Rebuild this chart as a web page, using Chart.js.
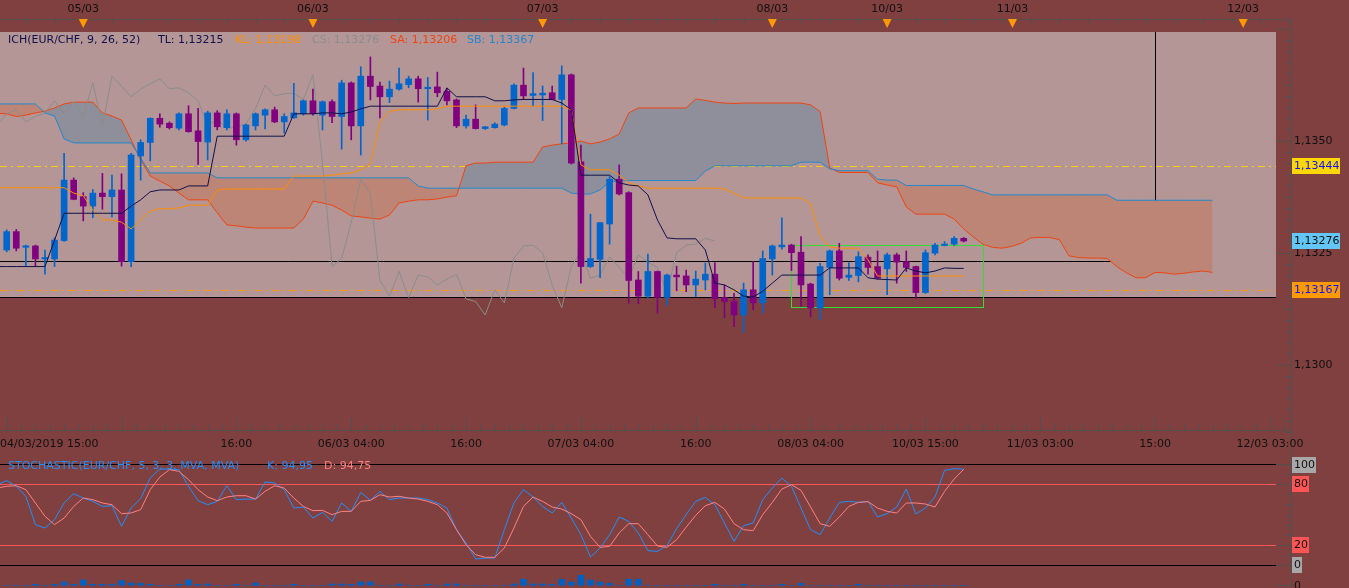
<!DOCTYPE html>
<html><head><meta charset="utf-8">
<script src="https://cdn.jsdelivr.net/npm/chart.js@4.4.1/dist/chart.umd.min.js"></script>
<style>
html,body{margin:0;padding:0;background:#804040;overflow:hidden;}
#wrap{position:relative;width:1349px;height:588px;}
canvas{position:absolute;left:0;}
#main{top:0;} #stoch{top:455px;}
</style></head><body>
<div id="wrap"><canvas id="main" width="1349" height="455"></canvas><canvas id="stoch" width="1349" height="133"></canvas></div>
<script>
// ---------- DATA ----------
// candles: index 0..100
const opens = [1.13256,1.13297,1.13262,1.13265,1.13236,1.13236,1.13277,1.13412,1.13375,1.13354,
1.13383,1.13375,1.1339,1.1323,1.13466,1.13496,1.1355,1.13539,1.13528,1.1356,
1.13522,1.13497,1.13562,1.13529,1.1356,1.13502,1.13533,1.13557,1.13569,1.13542,
1.13551,1.1356,1.13589,1.13557,1.13587,1.13554,1.13629,1.13533,1.13644,1.13622,
1.13598,1.13615,1.13625,1.13638,1.13616,1.1362,1.1361,1.13591,1.13533,1.13548,
1.13527,1.13529,1.13535,1.13572,1.13624,1.13601,1.13602,1.13607,1.13592,1.13647,
1.13453,1.13219,1.13235,1.13314,1.13414,1.13384,1.13189,1.13153,1.13208,1.1315,
1.132,1.13198,1.13178,1.13189,1.13202,1.1315,1.13142,1.13111,1.13167,1.13138,
1.13236,1.13263,1.13267,1.13251,1.1318,1.13127,1.13217,1.13254,1.13195,1.13199,
1.1324,1.13219,1.13214,1.13245,1.1323,1.13219,1.13161,1.13249,1.13266,1.13269,
1.13282];
const highs = [1.13301,1.13302,1.13267,1.13267,1.13256,1.13283,1.13472,1.13417,1.13384,1.13391,
1.13427,1.13423,1.13426,1.13472,1.13502,1.13551,1.1356,1.13542,1.13562,1.13578,
1.13572,1.13566,1.13567,1.13569,1.13562,1.13537,1.13562,1.13571,1.13575,1.1356,
1.13628,1.13591,1.13615,1.13589,1.13591,1.13635,1.13631,1.13665,1.13687,1.13631,
1.13633,1.13662,1.13644,1.13644,1.13641,1.13653,1.13617,1.13593,1.13557,1.1358,
1.13532,1.1354,1.13575,1.13627,1.13662,1.13652,1.13622,1.13622,1.13667,1.13649,
1.1349,1.13336,1.13318,1.1342,1.13446,1.13386,1.13208,1.13247,1.13209,1.13202,
1.1322,1.13211,1.13209,1.13227,1.13228,1.13178,1.13159,1.13182,1.1323,1.13254,
1.13267,1.13328,1.13269,1.13286,1.13182,1.13226,1.13256,1.13271,1.13228,1.13252,
1.13245,1.13254,1.13249,1.13249,1.13254,1.1322,1.13256,1.13271,1.13275,1.13286,
1.13284];
const lows = [1.13252,1.13254,1.13219,1.13219,1.13202,1.13219,1.13275,1.13368,1.13321,1.13328,
1.13347,1.1333,1.1322,1.13219,1.13412,1.13455,1.1353,1.13526,1.13524,1.13519,
1.13447,1.13457,1.13524,1.13524,1.1349,1.13499,1.13524,1.13526,1.1354,1.13517,
1.1355,1.13557,1.13557,1.13524,1.1354,1.13481,1.13502,1.13468,1.13591,1.13551,
1.13585,1.13613,1.13618,1.13586,1.13546,1.13598,1.1358,1.13529,1.13528,1.13526,
1.13525,1.13528,1.13533,1.13571,1.13592,1.13577,1.13545,1.13591,1.13493,1.13448,
1.13182,1.13217,1.13194,1.13269,1.13379,1.13137,1.13136,1.13148,1.13115,1.13133,
1.13165,1.13163,1.13152,1.13167,1.13127,1.13105,1.13085,1.13072,1.13122,1.13115,
1.132,1.13258,1.1321,1.1313,1.13107,1.13101,1.13156,1.13189,1.13188,1.13185,
1.13202,1.13191,1.13156,1.13182,1.13208,1.13148,1.13159,1.13245,1.13265,1.13266,
1.13274];
const closes = [1.13297,1.1326,1.13264,1.13236,1.13238,1.13278,1.13412,1.13369,1.13354,1.13383,
1.13375,1.1339,1.1323,1.13468,1.13496,1.1355,1.13537,1.13529,1.1356,1.1352,
1.13498,1.13562,1.13531,1.1356,1.13502,1.13535,1.1356,1.13569,1.13542,1.13554,
1.13562,1.13589,1.1356,1.13587,1.13554,1.13629,1.13533,1.13644,1.13621,1.13598,
1.13615,1.13627,1.13638,1.13616,1.13618,1.13607,1.13589,1.13533,1.13548,1.13527,
1.13531,1.13537,1.13572,1.13624,1.136,1.13605,1.13606,1.13592,1.13647,1.1345,
1.13219,1.13237,1.13317,1.13414,1.13381,1.13188,1.13153,1.13208,1.1315,1.132,
1.13196,1.13178,1.13191,1.13202,1.13147,1.13141,1.13111,1.13167,1.13138,1.13237,
1.13265,1.13267,1.1325,1.13178,1.13127,1.13219,1.13254,1.13193,1.132,1.13241,
1.13217,1.13193,1.13245,1.13229,1.13217,1.13161,1.1325,1.13267,1.13269,1.13282,
1.13276];
// indicator lines: first value sits at index -1 (left edge of the plot)
const LINE_START = -1;
const tenkan = [1.13219,1.13219,1.13219,1.13219,1.13219,1.13219,1.13278,1.13338,1.13338,1.13338,1.13338,
1.13338,1.13338,1.13338,1.13354,1.13368,1.13386,1.1339,1.1339,1.1339,1.13399,
1.13399,1.13399,1.1351,1.1351,1.1351,1.1351,1.1351,1.1351,1.1351,1.1351,
1.1356,1.1356,1.1356,1.13562,1.13562,1.1356,1.13564,1.13571,1.13577,1.13577,
1.13577,1.13577,1.13577,1.13577,1.13577,1.13577,1.13618,1.13598,1.13598,1.13598,
1.13598,1.13589,1.13589,1.13591,1.13592,1.13592,1.13592,1.13592,1.13584,1.13569,
1.13423,1.13423,1.13423,1.13423,1.13406,1.13401,1.13399,1.13379,1.13323,1.13283,
1.13281,1.13281,1.13281,1.13256,1.13182,1.13178,1.13167,1.13153,1.13151,1.13164,
1.13182,1.132,1.132,1.132,1.132,1.132,1.13216,1.13216,1.13216,1.13216,
1.13194,1.13191,1.1319,1.13189,1.13216,1.13209,1.13205,1.13209,1.13216,1.13215,
1.13215];
const kijun = [1.13395,1.13395,1.13395,1.13395,1.13395,1.13395,1.13395,1.13395,1.13383,1.13377,1.13345,
1.13323,1.13323,1.13318,1.13303,1.13323,1.13343,1.13348,1.13348,1.1335,1.13356,
1.13356,1.13356,1.1339,1.13392,1.13392,1.13392,1.13392,1.13392,1.13392,1.13392,
1.13421,1.13421,1.13421,1.13421,1.13423,1.13426,1.13428,1.13435,1.13448,1.13542,
1.13566,1.13569,1.13569,1.13569,1.13569,1.13571,1.13577,1.13577,1.13577,1.13577,
1.13577,1.13577,1.13577,1.13577,1.13577,1.13577,1.13577,1.13577,1.13577,1.13569,
1.13446,1.13435,1.13435,1.13435,1.13423,1.13406,1.13399,1.13394,1.13394,1.13394,
1.13394,1.13394,1.13394,1.13394,1.13394,1.13392,1.13383,1.13372,1.13372,1.13372,
1.13372,1.13372,1.13372,1.13372,1.13359,1.13287,1.13263,1.1326,1.1326,1.1326,
1.13234,1.13198,1.13198,1.13198,1.13198,1.13198,1.13198,1.13198,1.13198,1.13198,
1.13198];
const chikou = [1.13535,1.1356,1.13569,1.13542,1.13554,1.13562,1.13589,1.1356,1.13587,1.13554,1.13629,
1.13533,1.13644,1.13621,1.13598,1.13615,1.13627,1.13638,1.13616,1.13618,1.13607,
1.13589,1.13533,1.13548,1.13527,1.13531,1.13537,1.13572,1.13624,1.136,1.13605,
1.13606,1.13592,1.13647,1.1345,1.13219,1.13237,1.13317,1.13414,1.13381,1.13188,
1.13153,1.13208,1.1315,1.132,1.13196,1.13178,1.13191,1.13202,1.13147,1.13141,
1.13111,1.13167,1.13138,1.13237,1.13265,1.13267,1.1325,1.13178,1.13127,1.13219,
1.13254,1.13193,1.132,1.13241,1.13217,1.13193,1.13245,1.13229,1.13217,1.13161,
1.1325,1.13267,1.13269,1.13282,1.13276];
const senkouA = [1.13561,1.1356,1.13554,1.13557,1.13562,1.13566,1.13573,1.13582,1.13586,1.13586,1.13586,
1.13562,1.13555,1.13546,1.13502,1.13457,1.13421,1.1341,1.13399,1.13383,1.13368,
1.13368,1.13368,1.13339,1.13312,1.1331,1.13307,1.13305,1.13305,1.13305,1.13305,
1.13305,1.13325,1.13365,1.13361,1.13356,1.13345,1.13332,1.1333,1.13327,1.13325,
1.13334,1.13361,1.13365,1.13368,1.13368,1.1337,1.13374,1.13377,1.13444,1.1345,
1.1345,1.13452,1.13452,1.13452,1.13452,1.13452,1.13486,1.1349,1.13493,1.13495,
1.13499,1.13493,1.13497,1.13504,1.13515,1.13562,1.13573,1.13573,1.13573,1.13573,
1.13573,1.13573,1.13593,1.1359,1.13586,1.13584,1.13583,1.13584,1.13584,1.13584,
1.13584,1.13584,1.13584,1.13584,1.1358,1.13565,1.13439,1.13429,1.13429,1.13429,
1.13429,1.13406,1.13401,1.13397,1.13352,1.13336,1.13336,1.13336,1.13336,1.13325,
1.13303,1.13285,1.13269,1.13262,1.1326,1.13264,1.13271,1.13283,1.13284,1.13284,
1.13279,1.13243,1.13239,1.13238,1.13238,1.13237,1.13219,1.13205,1.13194,1.13194,
1.13206,1.13205,1.13202,1.13204,1.13207,1.13209,1.13206];
const senkouB = [1.13582,1.13582,1.13582,1.13582,1.13582,1.13562,1.13555,1.13504,1.13495,1.13495,1.13495,
1.13495,1.13495,1.13495,1.13495,1.13461,1.13428,1.13428,1.13428,1.13428,1.13428,
1.13428,1.13428,1.13417,1.13417,1.13417,1.13417,1.13417,1.13417,1.13417,1.13417,
1.13417,1.13417,1.13417,1.13417,1.13417,1.13417,1.13417,1.13417,1.13417,1.13417,
1.13417,1.13417,1.13417,1.13399,1.13394,1.13394,1.13394,1.13394,1.13394,1.13394,
1.13394,1.13394,1.13394,1.13394,1.13394,1.13394,1.13394,1.13394,1.13394,1.13383,
1.13381,1.13381,1.1339,1.13408,1.1341,1.13411,1.13411,1.13411,1.13411,1.13411,
1.13411,1.13411,1.13411,1.13432,1.13444,1.13444,1.13444,1.13444,1.13444,1.13444,
1.13444,1.13444,1.13444,1.13452,1.13452,1.13452,1.13437,1.13433,1.13433,1.13433,
1.13433,1.13414,1.13412,1.13412,1.134,1.134,1.134,1.134,1.134,1.134,
1.134,1.13392,1.13386,1.13379,1.13379,1.13379,1.13379,1.13379,1.13379,1.13379,
1.13379,1.13379,1.13379,1.13379,1.13379,1.13379,1.13367,1.13367,1.13367,1.13367,
1.13367,1.13367,1.13367,1.13367,1.13367,1.13367,1.13367];
const stochK = [79.2,83.5,77.9,68,40,36.6,44.9,61.4,70.6,66.3,63,
58,58.7,38.3,56.4,65.7,86.1,95,95,94.4,77.9,
63.7,59.7,63,78.5,64.7,65.3,65.3,82.2,81.2,74.6,
56.4,57.4,46.5,52.1,43.2,61.4,53.1,71.9,64,72.9,
64.7,66.3,66.3,66.3,64.7,61.4,56.4,35,21.8,5.9,
6.9,6.9,35,61.4,74.6,67.3,58,51.5,62,46.5,
30,7.9,16.8,30,47.5,43.2,31.7,14.2,13.5,19.3,
36,50,63,67,59.7,41.6,23.4,39,41.6,64.7,
76.2,86.1,77.9,56.4,35,30,46.5,62,63,62,
63,47.5,50.8,57.4,75.2,50.5,56.4,67.3,93.7,95.4,
94.95];
const stochD = [76.2,77.9,78.5,74.6,61.4,48.2,40,46.5,58,66.3,64.7,
61.4,59.7,50.8,51.5,54.8,74.6,87.1,94.4,92.7,84.5,
74.6,67.3,63.7,67.3,68.6,68.6,65.3,72.9,78.5,76.2,
66.3,58,53.8,54.1,49.8,53.1,53.1,63,64,69.6,
67.3,68,66.3,65.3,63,59.7,51.5,35,20.1,10.2,
7.6,7.6,16.8,36.6,58,67.3,63,57.4,55.4,50.8,
44.9,28.4,17.5,18.5,31.7,40.9,40.9,30,18.8,17.5,
25.1,37.5,49.2,58.7,62,55.4,40.9,35,34,49.8,
62,75.2,79.5,73.9,57.4,40.9,38.3,47.5,58,62,
62.7,56.4,53.1,51.5,61.4,61.4,60.4,57.4,72.9,85.1,
94.75];
const volumes = [0,0,0,10,0,10,33,10,53,10,
10,10,47,23,20,10,0,0,10,53,
10,13,0,0,10,0,23,0,0,0,
10,0,0,0,13,13,10,33,33,0,
0,13,0,0,10,0,13,13,0,0,
0,0,0,13,60,13,13,10,60,33,
100,53,33,20,0,60,60,0,0,0,
0,0,0,0,10,0,0,10,0,0,
0,10,0,20,0,0,0,0,0,10,
0,0,0,0,0,0,0,0,0,0,
0];
const topLabelIdx = [8,32,56,80,92,105.1,129.2];
const topLabels = ['05/03','06/03','07/03','08/03','10/03','11/03','12/03'];
const bottomLabelIdx = [0,24,36,48,60,72,84,96,108,120,132];
const bottomLabels = ['04/03/2019 15:00','16:00','06/03 04:00','16:00','07/03 04:00','16:00','08/03 04:00','10/03 15:00','11/03 03:00','15:00','12/03 03:00'];
const priceLabels = [1.1300,1.1325,1.1350];
const markerPrices = [1.13444,1.13276,1.13167];
const stochLevels = [100,80,20,0];

// ---------- LAYOUT / STYLE ----------
const X_MIN=-0.70, X_MAX=134.2, Y_MIN=1.128542, Y_MAX=1.137716;
const S_MIN=-22.77, S_MAX=100, V_MIN=-27, V_MAX=1213;
const PANEL_END=132.6, PANEL_TOP=1.13743, PANEL_BOTTOM=1.13151;
const SEL_END=120, SEL_PRICE=1.13231;
const BOX_X0=82, BOX_X1=102, BOX_P0=1.13128, BOX_P1=1.13267;
const BG='#804040', PANEL='#b49696', AXIS='#505050', TXT='#101010';
const BLUE='#0066cc', PURPLE='#800080';
const C_TL='#10104a', C_KL='#ff8c00', C_CS='#8c8c8c', C_SA='#ee4411', C_SB='#2288cc';
const CLOUD_UP='#8f8f9b', CLOUD_DN='#bd8575';
const FONT='11px "DejaVu Sans", sans-serif';
const fmt=(v,d)=>v.toFixed(d).replace('.',',');
const pts=(a,off)=>a.map((v,i)=>({x:i+(off||0),y:v}));
const candleCols=closes.map((c,i)=>c>=opens[i]?BLUE:PURPLE);
const line=(label,data,color,order,extra)=>Object.assign({type:'line',label,data:pts(data,LINE_START),borderColor:color,borderWidth:1,pointRadius:0,tension:0,fill:false,order},extra||{});

function tag(ctx,x,y,text,bg,fg,w){
  ctx.font=FONT; const tw=w||ctx.measureText(text).width+3;
  ctx.fillStyle=bg; ctx.fillRect(x,Math.round(y)-8,tw,16);
  ctx.fillStyle=fg; ctx.textAlign='left'; ctx.textBaseline='middle'; ctx.fillText(text,x+2,Math.round(y)+0.5);
}

const mainDeco={
  id:'mainDeco',
  beforeDraw(chart){const c=chart.ctx;c.save();c.fillStyle=BG;c.fillRect(0,0,chart.width,chart.height);c.restore();},
  beforeDatasetsDraw(chart){
    const {ctx,scales:{x,y},chartArea:a}=chart;
    const L=a.left, R=Math.round(x.getPixelForValue(PANEL_END));
    const T=Math.round(y.getPixelForValue(PANEL_TOP)), B=Math.round(y.getPixelForValue(PANEL_BOTTOM));
    ctx.save();
    ctx.fillStyle=PANEL; ctx.fillRect(L,T,R-L,B-T);
    ctx.lineWidth=1;
    const hl=(p,x1,x2,col,dash)=>{const yy=Math.round(y.getPixelForValue(p))+0.5;ctx.strokeStyle=col;ctx.setLineDash(dash||[]);ctx.beginPath();ctx.moveTo(x1,yy);ctx.lineTo(x2,yy);ctx.stroke();};
    hl(markerPrices[0],L,R,'#ffcc00',[7,4,2,4]);
    hl(markerPrices[2],L,R,'#ff9900',[7,4,2,4]);
    const sx=Math.round(x.getPixelForValue(SEL_END))+0.5;
    hl(SEL_PRICE,L,sx,'#000');
    ctx.setLineDash([]);ctx.strokeStyle='#000';ctx.beginPath();ctx.moveTo(sx,T);ctx.lineTo(sx,Math.round(y.getPixelForValue(SEL_PRICE))+0.5);ctx.stroke();
    hl(PANEL_BOTTOM,L,R,'#000');
    const bx0=Math.round(x.getPixelForValue(BOX_X0))+0.5,bx1=Math.round(x.getPixelForValue(BOX_X1))+0.5;
    const by0=Math.round(y.getPixelForValue(BOX_P1))+0.5,by1=Math.round(y.getPixelForValue(BOX_P0))+0.5;
    ctx.strokeStyle='#33dd33';ctx.strokeRect(bx0,by0,bx1-bx0,by1-by0);
    ctx.restore();
  },
  afterDraw(chart){
    const {ctx,scales:{x,y},chartArea:a}=chart;
    ctx.save(); ctx.lineWidth=1; ctx.strokeStyle=AXIS; ctx.font=FONT;
    const top=a.top+0.5, bot=a.bottom+0.5, rx=a.right+0.5;
    ctx.beginPath();
    ctx.moveTo(0,top);ctx.lineTo(rx,top);
    ctx.moveTo(0,bot);ctx.lineTo(rx,bot);
    ctx.moveTo(rx,a.top);ctx.lineTo(rx,chart.height);
    for(let k=2;k<=X_MAX;k+=3){const px=Math.round(x.getPixelForValue(k))+0.5;ctx.moveTo(px,a.top);ctx.lineTo(px,a.top+5);}
    for(let k=0;k<=X_MAX;k+=1.5){const px=Math.round(x.getPixelForValue(k))+0.5;const len=(k%12===0)?13:6;ctx.moveTo(px,a.bottom);ctx.lineTo(px,a.bottom-len);}
    for(let m=112850;m<=113775;m+=25){const py=Math.round(y.getPixelForValue(m/1e5))+0.5;if(py<a.top)continue;const len=m%250===0?14:(m%125===0?8:5);ctx.moveTo(a.right,py);ctx.lineTo(a.right-len,py);}
    ctx.stroke();
    ctx.fillStyle='#ff9900';
    topLabelIdx.forEach(i=>{const px=x.getPixelForValue(i);ctx.beginPath();ctx.moveTo(px-4.5,a.top);ctx.lineTo(px+4.5,a.top);ctx.lineTo(px,a.top+9);ctx.closePath();ctx.fill();});
    ctx.fillStyle=TXT; ctx.textBaseline='middle'; ctx.textAlign='center';
    topLabels.forEach((t,j)=>ctx.fillText(t,x.getPixelForValue(topLabelIdx[j]),9.5));
    bottomLabels.forEach((t,j)=>{const px=x.getPixelForValue(bottomLabelIdx[j]);if(j===0){ctx.textAlign='left';ctx.fillText(t,0,444.5);ctx.textAlign='center';}else ctx.fillText(t,px,444.5);});
    ctx.textAlign='left';
    priceLabels.forEach(p=>ctx.fillText(fmt(p,4),a.right+3,Math.round(y.getPixelForValue(p))+0.5));
    tag(ctx,a.right+1,y.getPixelForValue(markerPrices[0]),fmt(markerPrices[0],5),'#ffd700','#1010ff',48);
    tag(ctx,a.right+1,y.getPixelForValue(markerPrices[1]),fmt(markerPrices[1],5),'#62c6f6','#101010',48);
    tag(ctx,a.right+1,y.getPixelForValue(markerPrices[2]),fmt(markerPrices[2],5),'#ff9900','#1010ff',48);
    const ly=40.5; ctx.textBaseline='middle';
    const last=a2=>a2[a2.length-1];
    const parts=[['ICH(EUR/CHF, 9, 26, 52)',8,C_TL],['TL: '+fmt(last(tenkan),5),158,C_TL],['KL: '+fmt(last(kijun),5),235,C_KL],['CS: '+fmt(last(chikou),5),312,C_CS],['SA: '+fmt(last(senkouA),5),390,C_SA],['SB: '+fmt(last(senkouB),5),467,C_SB]];
    parts.forEach(([t,px,c])=>{ctx.fillStyle=c;ctx.fillText(t,px,ly);});
    ctx.restore();
  }
};

new Chart(document.getElementById('main'),{
  type:'bar',
  data:{datasets:[
    line('SA',senkouA,C_SA,10,{fill:{target:1,above:CLOUD_UP,below:CLOUD_DN}}),
    line('SB',senkouB,C_SB,9),
    line('CS',chikou,C_CS,8),
    {type:'bar',label:'wick',data:highs.map((h,i)=>({x:i,y:[lows[i],h]})),backgroundColor:candleCols,barThickness:1,grouped:false,order:7},
    {type:'bar',label:'body',data:opens.map((o,i)=>({x:i,y:[o,closes[i]]})),backgroundColor:candleCols,barThickness:6,minBarLength:1.5,grouped:false,order:6},
    line('KL',kijun,C_KL,5),
    line('TL',tenkan,C_TL,4)
  ]},
  options:{responsive:false,animation:false,events:[],
    layout:{padding:{left:0,right:58,top:19,bottom:25}},
    plugins:{legend:{display:false},tooltip:{enabled:false}},
    scales:{x:{type:'linear',min:X_MIN,max:X_MAX,display:false,offset:false},
            y:{type:'linear',min:Y_MIN,max:Y_MAX,display:false}}},
  plugins:[mainDeco]
});

const stochDeco={
  id:'stochDeco',
  beforeDraw(chart){const c=chart.ctx;c.save();c.fillStyle=BG;c.fillRect(0,0,chart.width,chart.height);c.restore();},
  beforeDatasetsDraw(chart){
    const {ctx,scales:{x,y}}=chart; const R=Math.round(x.getPixelForValue(PANEL_END));
    ctx.save();ctx.lineWidth=1;
    stochLevels.forEach(v=>{const py=Math.round(y.getPixelForValue(v))+0.5;ctx.strokeStyle=(v===100||v===0)?'#000':'#ff5555';ctx.beginPath();ctx.moveTo(0,py);ctx.lineTo(R,py);ctx.stroke();});
    ctx.restore();
  },
  afterDraw(chart){
    const {ctx,scales:{x,y,yv},chartArea:a}=chart;
    ctx.save();ctx.lineWidth=1;ctx.strokeStyle=AXIS;ctx.font=FONT;
    const rx=a.right+0.5;
    ctx.beginPath();ctx.moveTo(rx,0);ctx.lineTo(rx,chart.height);
    for(let v=0;v<=100;v+=10){const py=Math.round(y.getPixelForValue(v))+0.5;const len=stochLevels.includes(v)?15:5;ctx.moveTo(a.right,py);ctx.lineTo(a.right-len,py);}
    const pv=Math.round(yv.getPixelForValue(0))+0.5;ctx.moveTo(a.right,pv);ctx.lineTo(a.right-15,pv);
    ctx.stroke();
    stochLevels.forEach(v=>{const gray=(v===100||v===0);tag(ctx,a.right+1,y.getPixelForValue(v)+(v===100?1:0),String(v),gray?'#a8a8a8':'#ff5555','#101010');});
    ctx.fillStyle=TXT;ctx.textAlign='left';ctx.textBaseline='middle';ctx.fillText('0',a.right+3,Math.round(yv.getPixelForValue(0))+1);
    ctx.fillStyle='#1e90ff';ctx.fillText('STOCHASTIC(EUR/CHF, 5, 3, 3, MVA, MVA)',8,11.5);
    ctx.fillText('K: '+fmt(stochK[stochK.length-1],2),267,11.5);
    ctx.fillStyle='#ff8080';ctx.fillText('D: '+fmt(stochD[stochD.length-1],2),324,11.5);
    ctx.restore();
  }
};

new Chart(document.getElementById('stoch'),{
  type:'bar',
  data:{datasets:[
    {type:'line',label:'K',data:pts(stochK,LINE_START),borderColor:'#1e90ff',borderWidth:1,pointRadius:0,tension:0,fill:false,yAxisID:'y',order:2},
    {type:'line',label:'D',data:pts(stochD,LINE_START),borderColor:'#ff8080',borderWidth:1,pointRadius:0,tension:0,fill:false,yAxisID:'y',order:1},
    {type:'bar',label:'Vol',data:pts(volumes,0),backgroundColor:'#0060c0',barThickness:6,grouped:false,yAxisID:'yv',order:3}
  ]},
  options:{responsive:false,animation:false,events:[],
    layout:{padding:{left:0,right:58,top:9,bottom:0}},
    plugins:{legend:{display:false},tooltip:{enabled:false}},
    scales:{x:{type:'linear',min:X_MIN,max:X_MAX,display:false,offset:false},
            y:{type:'linear',min:S_MIN,max:S_MAX,display:false},
            yv:{type:'linear',min:V_MIN,max:V_MAX,display:false}}},
  plugins:[stochDeco]
});
</script></body></html>
